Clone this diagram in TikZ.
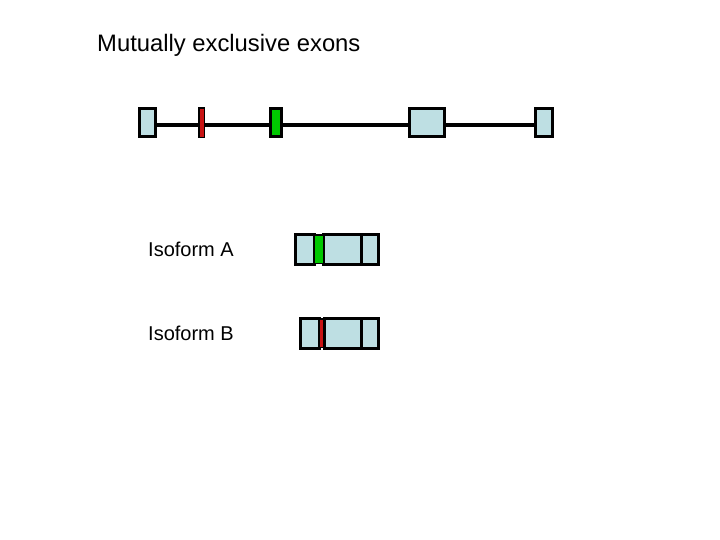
\documentclass[tikz,border=0pt]{standalone}
\usepackage{fontspec}
\setmainfont{Liberation Sans}
\definecolor{exonblue}{RGB}{190,223,227}
\definecolor{exongreen}{RGB}{0,200,0}
\definecolor{exonred}{RGB}{200,20,20}
\begin{document}
\begin{tikzpicture}[x=1pt,y=-1pt,
  exon/.style={draw=black,line width=3pt,fill=exonblue,inner sep=0pt,outer sep=0pt,rectangle},
  gexon/.style={exon,fill=exongreen},
  rexon/.style={exon,fill=exonred,line width=1.6pt},
  intron/.style={draw=black,line width=4pt},
  lbl/.style={inner sep=0pt,anchor=base west,font=\fontsize{20}{24}\selectfont}]
\useasboundingbox (0,0) rectangle (720,540);
\node[lbl,font=\fontsize{23.8}{28}\selectfont] (title) at (97,52) {Mutually exclusive exons};
% gene
\node[exon,minimum width=16pt,minimum height=28pt] (e1) at (147.5,123) {};
\node[rexon,minimum width=5.6pt,minimum height=29.4pt] (e2) at (201.7,123) {};
\node[gexon,minimum width=11pt,minimum height=28pt] (e3) at (276,123) {};
\node[exon,minimum width=35pt,minimum height=28pt] (e4) at (426.5,123) {};
\node[exon,minimum width=17pt,minimum height=28pt] (e5) at (543.5,123) {};
\draw[intron] ([yshift=-2.5pt]e1.east) -- ([yshift=-2.5pt]e2.west);
\draw[intron] ([yshift=-2.5pt]e2.east) -- ([yshift=-2.5pt]e3.west);
\draw[intron] ([yshift=-2.5pt]e3.east) -- ([yshift=-2.5pt]e4.west);
\draw[intron] ([yshift=-2.5pt]e4.east) -- ([yshift=-2.5pt]e5.west);
% isoform A
\node[lbl] (la) at (148,256) {Isoform A};
\node[exon,minimum width=19pt,minimum height=30pt] (a1) at (304.5,249) {};
\node[exon,minimum width=37.5pt,minimum height=30pt] (a3) at (342.25,249) {};
\node[exon,minimum width=17.5pt,minimum height=30pt] (a4) at (369.75,249) {};
\node[gexon,line width=1.6pt,minimum width=10pt,minimum height=28.6pt] (a2) at (318.8,249) {};
% isoform B
\node[lbl] (lb) at (148,340) {Isoform B};
\node[exon,minimum width=18.5pt,minimum height=30pt] (b1) at (309.75,333) {};
\node[exon,minimum width=37pt,minimum height=30pt] (b3) at (342.5,333) {};
\node[exon,minimum width=17.5pt,minimum height=30pt] (b4) at (369.75,333) {};
\node[rexon,minimum width=5.2pt,minimum height=28.6pt] (b2) at (321.6,333) {};
\end{tikzpicture}
\end{document}
